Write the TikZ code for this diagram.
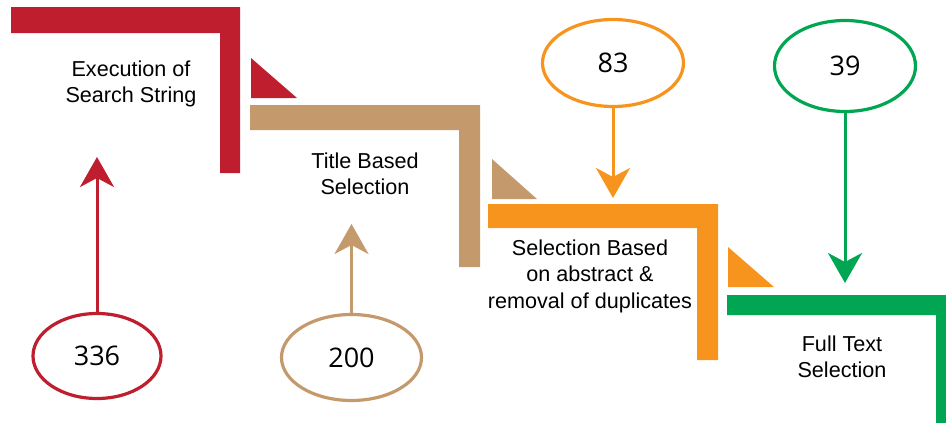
\documentclass[tikz,border=0pt]{standalone}
\usepackage{fontspec}
\setmainfont{Liberation Sans}
\newfontfamily\numfont{Open Sans}
\usetikzlibrary{shapes.geometric,arrows.meta}
\definecolor{cred}{RGB}{190,30,45}
\definecolor{ctan}{RGB}{196,154,108}
\definecolor{corange}{RGB}{247,148,29}
\definecolor{cgreen}{RGB}{0,166,81}
\begin{document}
\begin{tikzpicture}[x=1pt,y=-1pt,
  lbl/.style={align=center,font=\fontsize{21.6}{26.5}\selectfont,inner sep=0pt},
  num/.style={ellipse,draw=#1,line width=3.2pt,inner sep=0pt,
    font=\numfont\fontsize{27}{30}\selectfont},
  flow/.style={line width=3pt,draw=#1,-{Stealth[length=30pt,width=34pt,inset=9pt]}}
]
\useasboundingbox (0,0) rectangle (946,423);
% L-shaped bars
\fill[cred] (11,7) -- (240,7) -- (240,173) -- (220,173) -- (220,33) -- (11,33) -- cycle;
\fill[ctan] (250,105) -- (480,105) -- (480,267) -- (459,267) -- (459,130) -- (250,130) -- cycle;
\fill[corange] (488,204) -- (718,204) -- (718,360) -- (697,360) -- (697,228) -- (488,228) -- cycle;
\fill[cgreen] (727,295) -- (946,295) -- (946,423) -- (936,423) -- (936,315) -- (727,315) -- cycle;
% triangles
\fill[cred] (251,58) -- (251,98) -- (297,98) -- cycle;
\fill[ctan] (492,159) -- (492,199) -- (537,199) -- cycle;
\fill[corange] (728,247) -- (728,287) -- (774,287) -- cycle;
% labels
\node[lbl] (t1) at (131,84) {Execution of\\Search String};
\node[lbl] (t2) at (365,174) {Title Based\\Selection};
\node[lbl] (t3) at (590,276) {Selection Based\\on abstract \&\\removal of duplicates};
\node[lbl] (t4) at (842,357) {Full Text\\Selection};
% ellipses
\node[num=cred, minimum width=128pt, minimum height=85pt] (e1) at (97,356) {336};
\node[num=ctan, minimum width=140pt, minimum height=86pt] (e2) at (351.5,357.5) {200};
\node[num=corange, minimum width=141pt, minimum height=87pt] (e3) at (613,63) {83};
\node[num=cgreen, minimum width=141pt, minimum height=91pt] (e4) at (845,66) {39};
% arrow ends
\coordinate (a1) at (97,157);
\coordinate (a2) at (351.5,224);
\coordinate (a3) at (613,198);
\coordinate (a4) at (845,283);
\draw[flow=cred] (e1.north) -- (a1);
\draw[flow=ctan] (e2.north) -- (a2);
\draw[flow=corange] (e3.south) -- (a3);
\draw[flow=cgreen] (e4.south) -- (a4);
\end{tikzpicture}
\end{document}
